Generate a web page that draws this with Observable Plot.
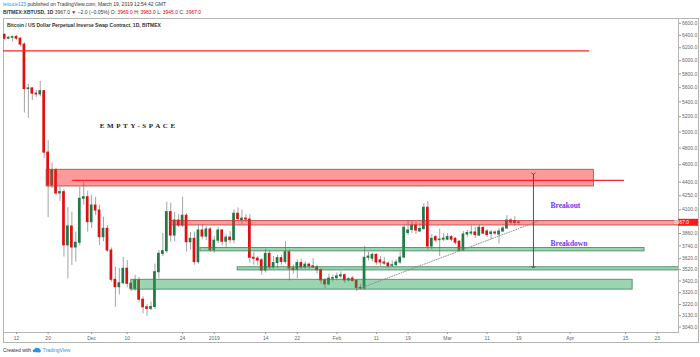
<!DOCTYPE html>
<html><head><meta charset="utf-8">
<script src="https://cdn.jsdelivr.net/npm/d3@7"></script>
<script src="https://cdn.jsdelivr.net/npm/@observablehq/plot@0.6"></script>
<style>
html,body{margin:0;padding:0;background:#fff;}
#wrap{position:relative;width:700px;height:357px;overflow:hidden;font-family:"Liberation Sans",Arial,sans-serif;}
.t{position:absolute;white-space:nowrap;color:#333;font-size:5px;line-height:6px;}
.red{color:#e00000}
.blue{color:#2196f3}
#box{position:absolute;left:3px;top:18px;width:696px;height:325px;border:1px solid #b4b4b4;box-sizing:border-box;}
#chart{position:absolute;left:0;top:0;}
</style></head>
<body><div id="wrap">
<div id="box"></div>
<div id="chart"></div>
<div class="t" style="left:3px;top:1px;"><span class="blue">lettuce123</span> published on TradingView.com, March 19, 2019 12:54:42 GMT</div>
<div class="t" style="left:3px;top:9px;"><b>BITMEX:XBTUSD, 1D</b> 3967.0 <span class="red">&#9660;</span> &minus;2.0 (&minus;0.05%) O: <span class="red">3969.0</span> H: <span class="red">3983.0</span> L: <span class="red">3945.0</span> C: <span class="red">3967.0</span></div>
<div class="t" style="left:7px;top:22px;font-weight:bold;">Bitcoin / US Dollar Perpetual Inverse Swap Contract, 1D, BITMEX</div>
<div class="t" style="left:3px;top:347px;">Created with <svg width="9" height="6" style="vertical-align:-1px"><path d="M1 5 Q0 3 2 2.5 Q3 0 5.5 1 Q8 0.8 8.5 3 Q9.5 5 7.5 5.5 Z" fill="#2196f3"/></svg> <span class="blue">TradingView</span></div>
</div>
<script>
// ---- daily candles, BITMEX XBTUSD, starting 2018-11-09 ----
const firstDay = "2018-11-09";
const opens = [
6405,6345,6360,6375,6345,6250,5580,5590,5515,5505,5550,4745,4365,4535,4275,4290,3745,3930,3725,3770,4218,4235,
3973,4146,4093,3824,3907,3696,3430,3366,3400,3528,3395,3353,3424,3260,3198,3185,3200,3497,3665,3690,4076,3840,3990,3940,4039,3775,3808,3588,3890,3830,3900,
3700,3790,3890,3780,3820,3795,4060,3995,4010,4000,3628,3620,3605,3513,3665,3540,3580,3625,3590,3680,3530,3520,3580,3540,3565,3550,3540,3515,3424,3390,3440,
3445,3460,3470,3425,3440,3420,3360,3355,3628,3620,3655,3605,3585,3575,3555,3560,3585,3630,3865,3895,3940,3880,3905,4122,3734,3824,3795,3800,
3800,3825,3808,3780,3696,3850,3860,3870,3840,3915,3880,3855,3870,3850,3880,3910,3990,3985,3969];
const highs = [
6430,6380,6390,6400,6360,6280,5650,5600,5560,5690,5560,4895,4620,4560,4350,4320,4125,4076,3873,4344,4400,4300,
4252,4233,4150,4024,3940,3720,3542,3530,3631,3603,3410,3470,3450,3284,3220,3240,3570,3696,3860,4181,4170,4076,4050,4236,4060,3870,3873,3940,3950,3930,3920,
3830,3920,3900,3850,3880,4100,4120,4100,4050,4050,3680,3640,3620,3710,3690,3640,3650,3650,3780,3700,3560,3610,3615,3590,3580,3620,3560,3530,3440,3480,3470,
3490,3500,3480,3450,3460,3430,3390,3733,3680,3670,3665,3640,3630,3590,3600,3610,3680,3940,3990,3980,3973,3960,4164,4190,3850,3840,3904,3860,
3860,3840,3820,3790,3880,3890,3935,3920,3940,3930,3900,3890,3885,3910,3930,4040,4010,4030,3983];
const lows = [
6320,6330,6290,6320,6210,5250,5180,5420,5460,5470,4675,4020,4330,4250,4190,3635,3440,3558,3588,3740,4150,3873,
3910,4040,3744,3780,3680,3409,3198,3300,3390,3360,3330,3330,3234,3145,3126,3170,3180,3439,3640,3670,3776,3780,3920,3920,3681,3700,3560,3570,3800,3790,3680,
3670,3760,3740,3720,3760,3760,3980,3950,3970,3580,3560,3560,3470,3490,3520,3525,3530,3560,3570,3420,3480,3440,3520,3520,3520,3530,3480,3390,3353,3380,3410,
3420,3440,3400,3410,3410,3330,3340,3340,3600,3590,3560,3550,3560,3530,3540,3550,3570,3620,3840,3860,3850,3870,3890,3700,3700,3770,3640,3780,
3790,3780,3750,3680,3690,3820,3840,3810,3830,3850,3820,3800,3840,3760,3870,3900,3950,3935,3945];
const closes = [
6345,6360,6370,6345,6250,5580,5590,5515,5505,5550,4745,4365,4535,4275,4290,3745,3930,3725,3770,4218,4235,3973,
4146,4093,3824,3907,3696,3430,3366,3400,3528,3395,3353,3424,3260,3198,3185,3200,3497,3665,3690,4076,3840,3990,3940,4039,3775,3808,3588,3890,3830,3900,3700,
3790,3890,3780,3820,3795,4060,4005,4010,4000,3628,3620,3603,3513,3665,3540,3580,3625,3590,3680,3530,3520,3580,3540,3565,3550,3540,3515,3424,3390,3440,3445,
3460,3470,3425,3435,3420,3360,3355,3628,3640,3655,3585,3585,3575,3550,3560,3585,3630,3917,3890,3940,3890,3905,4122,3734,3808,3792,3800,3810,
3825,3800,3770,3696,3850,3865,3870,3845,3917,3860,3845,3870,3860,3880,3910,3990,3970,3967,3967];

// ---- drawn zones ----
const zoneKind  = ["supply", "supply", "demand", "demand", "demand"];
const zoneLow   = [4352, 3940, 3688, 3513, 3345];
const zoneHigh  = [4541, 3985, 3720, 3542, 3430];
const zoneStart = ["2018-11-19T15:00Z", "2018-12-20T22:00Z", "2018-12-28T12:00Z", "2019-01-06T22:00Z", "2018-12-11T00:00Z"];
const zoneEnd   = ["2019-04-07T00:00Z", "2019-05-15T00:00Z", "2019-04-19T19:00Z", "2019-05-15T00:00Z", "2019-04-16T19:00Z"];

// ---- horizontal levels ----
const levelPrice = [6150, 4420];
const levelStart = ["2018-11-01T00:00Z", "2018-11-26T05:00Z"];
const levelEnd   = ["2019-04-05T22:00Z", "2019-04-14T17:00Z"];

// ---- trend line and target arrow ----
const trendDates  = ["2019-02-06T00:00Z", "2019-03-23T17:00Z"];
const trendPrices = [3345, 3980];
const arrowDate = "2019-03-22T17:00Z";
const arrowPrices = [4495, 3542];

// ---- notes ----
const noteTexts  = ["Breakout", "Breakdown"];
const noteDates  = ["2019-03-27T00:00Z", "2019-03-27T00:00Z"];
const notePrices = [4146, 3760];
const emptyText = "EMPTY-SPACE";
const emptyDate = "2018-12-12T14:00Z";
const emptyPrice = 5085;

// ---- axes ----
const xTickDates  = ["2018-11-12","2018-11-20","2018-12-01","2018-12-10","2018-12-24","2019-01-01","2019-01-14","2019-01-22","2019-02-01","2019-02-11","2019-02-19","2019-03-01","2019-03-11","2019-03-19","2019-04-01","2019-04-15","2019-04-23"];
const xTickLabels = ["12","20","Dec","10","24","2019","14","22","Feb","11","19","Mar","11","19","Apr","15","23"];
const yTicks = [6600,6400,6200,6000,5800,5600,5400,5200,5000,4800,4600,4400,4250,4100,3860,3740,3620,3520,3420,3320,3220,3130,3040];
const xDomain = [new Date("2018-11-08T17:07Z"), new Date("2019-04-28T09:07Z")];
const yDomain = [2998.6, 6680.6];

const d0 = new Date(firstDay + "T00:00Z");
const dates = opens.map((_, i) => d3.utcDay.offset(d0, i));
const idx = d3.range(opens.length);
const zi = d3.range(zoneLow.length);
const xTickD = xTickDates.map(s => new Date(s + "T00:00Z"));
const xLab = new Map(xTickD.map((d, i) => [+d, xTickLabels[i]]));
const P = s => new Date(s);

const plot = Plot.plot({
  width: 700, height: 357,
  marginTop: 18, marginBottom: 25, marginLeft: 3, marginRight: 22,
  style: {fontFamily: "Liberation Sans, Arial, sans-serif", fontSize: "5px", color: "#666", background: "transparent", overflow: "visible"},
  x: {type: "utc", domain: xDomain},
  y: {type: "log", domain: yDomain},
  marks: [
    Plot.frame({stroke: "#b4b4b4"}),
    Plot.axisX(xTickD, {tickFormat: d => xLab.get(+d), tickSize: 2, tickPadding: 1.5, label: null, stroke: "#999"}),
    Plot.axisY(yTicks, {anchor: "right", tickFormat: d => d.toFixed(1), tickSize: 2, tickPadding: 1.5, label: null, stroke: "#999"}),
    // wicks
    Plot.ruleX(idx, {x: i => dates[i], y1: i => lows[i], y2: i => highs[i], stroke: "#9a9a9a", strokeWidth: 0.9, clip: true}),
    // bodies
    Plot.rect(idx, {x1: i => dates[i], x2: i => dates[i], y1: i => opens[i], y2: i => closes[i],
      insetLeft: -1.35, insetRight: -1.35, insetTop: -0.5, insetBottom: -0.5,
      fill: i => closes[i] >= opens[i] ? "#1f7a45" : "#e01010", clip: true}),
    // zones
    Plot.rect(zi, {x1: i => P(zoneStart[i]), x2: i => P(zoneEnd[i]), y1: i => zoneLow[i], y2: i => zoneHigh[i],
      fill: i => zoneKind[i] === "supply" ? "#ff1f1f" : "#22a052", fillOpacity: 0.45,
      stroke: i => zoneKind[i] === "supply" ? "#b03838" : "#3b7a55", strokeOpacity: 0.75, strokeWidth: 1, clip: true}),
    // levels
    Plot.ruleY(levelPrice, {y: d => d, x1: (d, i) => P(levelStart[i]), x2: (d, i) => P(levelEnd[i]), stroke: "#f22", strokeWidth: 1.3, clip: true}),
    // trend line
    Plot.line(trendDates, {x: d => P(d), y: (d, i) => trendPrices[i], stroke: "#888", strokeWidth: 0.9, strokeDasharray: "1,1.5"}),
    // arrow
    Plot.link([arrowDate], {x1: d => P(d), x2: d => P(d), y1: arrowPrices[0], y2: arrowPrices[1], stroke: "#444", strokeWidth: 0.9, markerStart: "arrow", markerEnd: "arrow"}),
    // notes
    Plot.text(noteTexts, {x: (d, i) => P(noteDates[i]), y: (d, i) => notePrices[i], text: d => d, textAnchor: "start",
      fill: "#6b3bf0", fontFamily: "Liberation Serif, serif", fontWeight: "bold", fontSize: 7.5}),
    Plot.text([emptyText], {x: () => P(emptyDate), y: () => emptyPrice, text: d => d, textAnchor: "middle",
      fill: "#222", fontFamily: "Liberation Serif, serif", fontWeight: "bold", fontSize: 7})
  ]
});

// letter spacing for the spaced heading
d3.select(plot).selectAll("text").filter(function() { return this.textContent === emptyText; })
  .attr("letter-spacing", 2.6).attr("dx", 1.3);

// last-price label on the price axis
const lastClose = closes[closes.length - 1];
const yl = plot.scale("y").apply(lastClose);
const svg = d3.select(plot);
svg.append("rect").attr("x", 678).attr("y", yl - 3.5).attr("width", 20).attr("height", 7).attr("fill", "#ff1a1a");
svg.append("text").attr("x", 681.5).attr("y", yl).attr("dy", "0.35em").attr("fill", "#fff")
  .attr("font-size", 5).attr("font-family", "Liberation Sans, Arial, sans-serif").text(lastClose.toFixed(1));

document.getElementById("chart").appendChild(plot);
</script>
</body></html>
